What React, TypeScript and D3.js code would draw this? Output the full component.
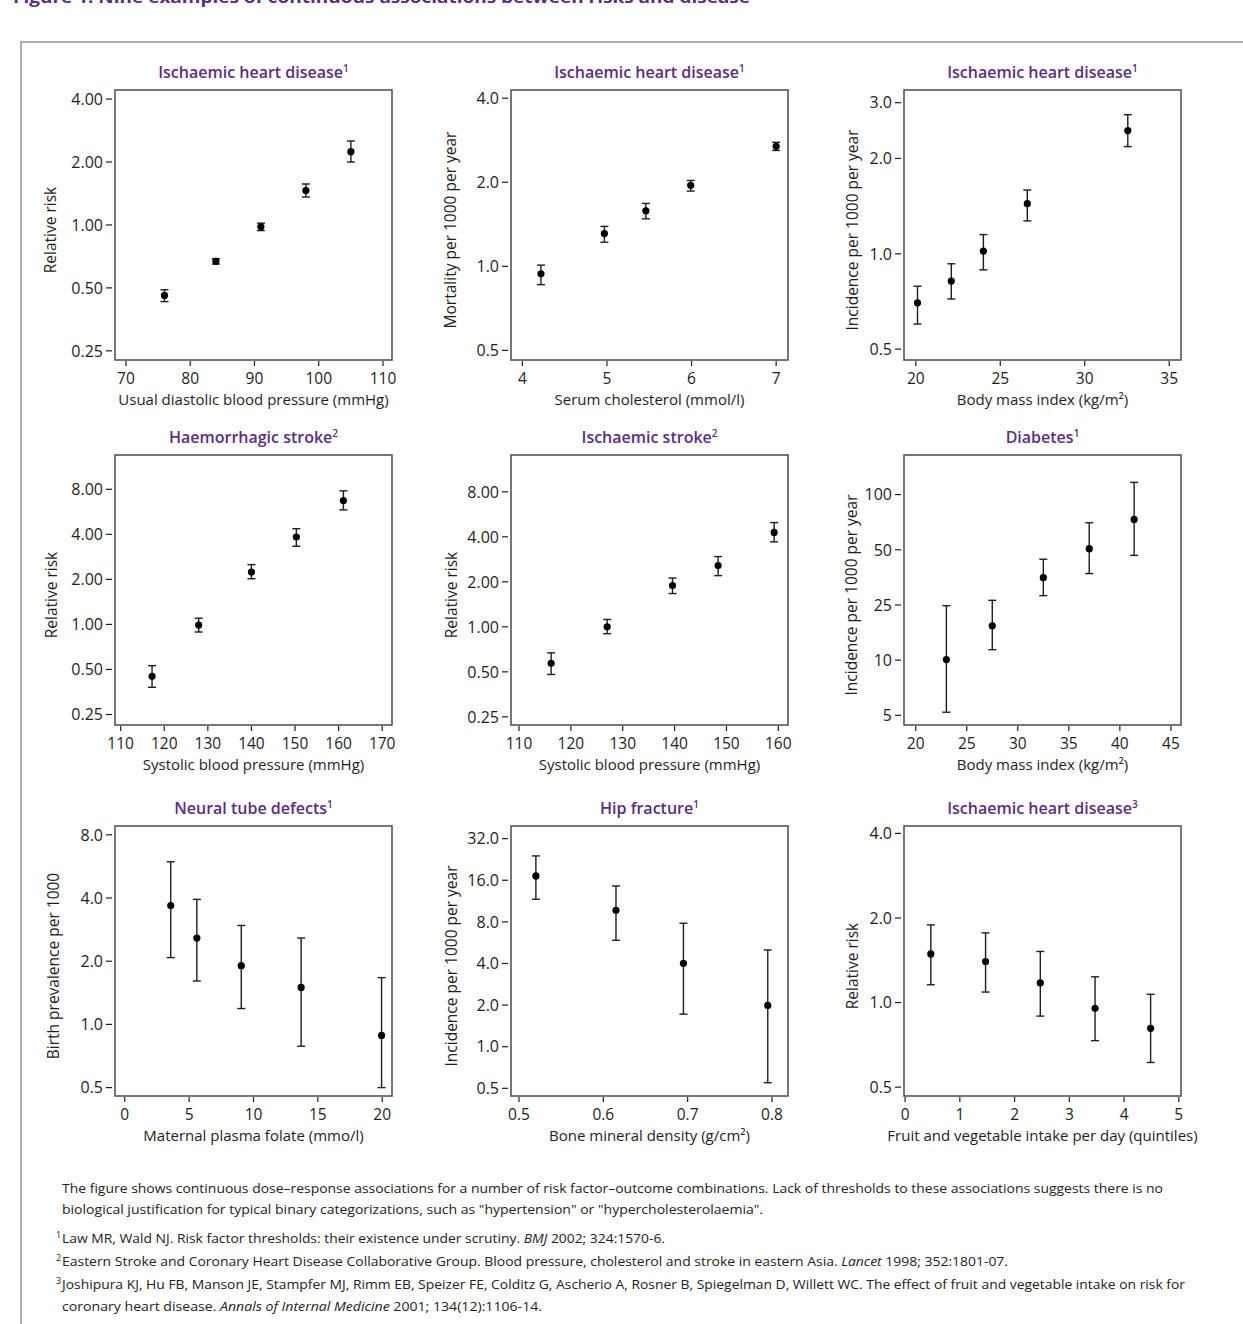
import * as d3 from 'd3'

// ---- data ----
const dbpX = [76, 84, 91, 98, 105]
const dbpRR = [0.46, 0.67, 0.98, 1.46, 2.24]
const dbpLo = [0.43, 0.65, 0.94, 1.36, 2.0]
const dbpHi = [0.49, 0.69, 1.02, 1.57, 2.52]

const cholX = [4.22, 4.97, 5.46, 5.99, 7.0]
const cholMort = [0.94, 1.31, 1.58, 1.95, 2.69]
const cholLo = [0.86, 1.22, 1.48, 1.86, 2.6]
const cholHi = [1.01, 1.39, 1.68, 2.03, 2.78]

const bmiIhdX = [20.1, 22.1, 24.0, 26.6, 32.55]
const bmiIhdInc = [0.7, 0.82, 1.02, 1.44, 2.45]
const bmiIhdLo = [0.6, 0.72, 0.89, 1.27, 2.18]
const bmiIhdHi = [0.79, 0.93, 1.15, 1.59, 2.75]

const sbpHaemX = [117.2, 127.9, 140.0, 150.3, 161.1]
const sbpHaemRR = [0.45, 0.99, 2.24, 3.84, 6.73]
const sbpHaemLo = [0.38, 0.89, 2.02, 3.33, 5.83]
const sbpHaemHi = [0.53, 1.1, 2.51, 4.36, 7.81]

const sbpIschX = [116.2, 127.0, 139.6, 148.4, 159.2]
const sbpIschRR = [0.57, 1.0, 1.89, 2.57, 4.28]
const sbpIschLo = [0.48, 0.9, 1.67, 2.2, 3.7]
const sbpIschHi = [0.67, 1.12, 2.12, 2.95, 4.98]

const bmiDiabX = [23, 27.5, 32.5, 37, 41.4]
const bmiDiabInc = [10.1, 17.7, 35.2, 50.7, 73.2]
const bmiDiabLo = [5.2, 11.9, 28.1, 37.1, 46.6]
const bmiDiabHi = [24.7, 26.5, 44.4, 70.2, 116.5]

const folateX = [3.57, 5.6, 9.05, 13.7, 19.95]
const folatePrev = [3.68, 2.58, 1.905, 1.5, 0.886]
const folateLo = [2.08, 1.61, 1.19, 0.787, 0.5]
const folateHi = [5.95, 3.94, 2.96, 2.58, 1.67]

const bmdX = [0.52, 0.615, 0.695, 0.795]
const bmdInc = [17.2, 9.7, 4.01, 1.99]
const bmdLo = [11.66, 5.89, 1.72, 0.549]
const bmdHi = [24.0, 14.55, 7.82, 5.01]

const fruitX = [0.47, 1.47, 2.47, 3.47, 4.485]
const fruitRR = [1.49, 1.4, 1.175, 0.954, 0.81]
const fruitLo = [1.157, 1.09, 0.895, 0.732, 0.612]
const fruitHi = [1.89, 1.77, 1.52, 1.235, 1.07]

// ---- tick labels ----
const rr4Ticks = [0.25, 0.5, 1, 2, 4]
const rr4Labels = ['0.25', '0.50', '1.00', '2.00', '4.00']
const rr8Ticks = [0.25, 0.5, 1, 2, 4, 8]
const rr8Labels = ['0.25', '0.50', '1.00', '2.00', '4.00', '8.00']
const half4Ticks = [0.5, 1, 2, 4]
const half4Labels = ['0.5', '1.0', '2.0', '4.0']
const half3Ticks = [0.5, 1, 2, 3]
const half3Labels = ['0.5', '1.0', '2.0', '3.0']
const diabTicks = [5, 10, 25, 50, 100]
const diabLabels = ['5', '10', '25', '50', '100']
const half8Ticks = [0.5, 1, 2, 4, 8]
const half8Labels = ['0.5', '1.0', '2.0', '4.0', '8.0']
const hipTicks = [0.5, 1, 2, 4, 8, 16, 32]
const hipLabels = ['0.5', '1.0', '2.0', '4.0', '8.0', '16.0', '32.0']

const FONT = "'Open Sans', 'Noto Sans', sans-serif"
const PURPLE = '#5b2c86'
const INK = '#1e1e1e'

const colLeft = [115, 511, 904]
const rowTop = [90, 455, 826]
const boxW = 277
const boxH = 270

interface PanelSpec {
  title: string
  sup: string
  xLabel: string
  yLabel: string
  col: number
  row: number
  yTitleOffset: number
  xDomain: [number, number]
  yDomain: [number, number]
  xTicks: number[]
  yTicks: number[]
  yLabels: string[]
  x: number[]
  est: number[]
  lo: number[]
  hi: number[]
  evenSteps?: [number, number] // ticks drawn equally spaced, with padding (in steps) below / above
}

const panels: PanelSpec[] = [
  { title: 'Ischaemic heart disease', sup: '1', xLabel: 'Usual diastolic blood pressure (mmHg)', yLabel: 'Relative risk',
    col: 0, row: 0, yTitleOffset: 64, xDomain: [68.3, 111.4], yDomain: [0.226, 4.42],
    xTicks: [70, 80, 90, 100, 110], yTicks: rr4Ticks, yLabels: rr4Labels, x: dbpX, est: dbpRR, lo: dbpLo, hi: dbpHi },
  { title: 'Ischaemic heart disease', sup: '1', xLabel: 'Serum cholesterol (mmol/l)', yLabel: 'Mortality per 1000 per year',
    col: 1, row: 0, yTitleOffset: 60, xDomain: [3.866, 7.14], yDomain: [0.462, 4.28],
    xTicks: [4, 5, 6, 7], yTicks: half4Ticks, yLabels: half4Labels, x: cholX, est: cholMort, lo: cholLo, hi: cholHi },
  { title: 'Ischaemic heart disease', sup: '1', xLabel: 'Body mass index (kg/m²)', yLabel: 'Incidence per 1000 per year',
    col: 2, row: 0, yTitleOffset: 51, xDomain: [19.3, 35.7], yDomain: [0.462, 3.29],
    xTicks: [20, 25, 30, 35], yTicks: half3Ticks, yLabels: half3Labels, x: bmiIhdX, est: bmiIhdInc, lo: bmiIhdLo, hi: bmiIhdHi },
  { title: 'Haemorrhagic stroke', sup: '2', xLabel: 'Systolic blood pressure (mmHg)', yLabel: 'Relative risk',
    col: 0, row: 1, yTitleOffset: 63, xDomain: [108.7, 172.25], yDomain: [0.2127, 13.56],
    xTicks: [110, 120, 130, 140, 150, 160, 170], yTicks: rr8Ticks, yLabels: rr8Labels, x: sbpHaemX, est: sbpHaemRR, lo: sbpHaemLo, hi: sbpHaemHi },
  { title: 'Ischaemic stroke', sup: '2', xLabel: 'Systolic blood pressure (mmHg)', yLabel: 'Relative risk',
    col: 1, row: 1, yTitleOffset: 59, xDomain: [108.46, 161.87], yDomain: [0.2205, 14.1],
    xTicks: [110, 120, 130, 140, 150, 160], yTicks: rr8Ticks, yLabels: rr8Labels, x: sbpIschX, est: sbpIschRR, lo: sbpIschLo, hi: sbpIschHi },
  { title: 'Diabetes', sup: '1', xLabel: 'Body mass index (kg/m²)', yLabel: 'Incidence per 1000 per year',
    col: 2, row: 1, yTitleOffset: 52, xDomain: [18.85, 45.99], yDomain: [4.43, 164],
    xTicks: [20, 25, 30, 35, 40, 45], yTicks: diabTicks, yLabels: diabLabels, x: bmiDiabX, est: bmiDiabInc, lo: bmiDiabLo, hi: bmiDiabHi,
    evenSteps: [0.175, 0.717] },
  { title: 'Neural tube defects', sup: '1', xLabel: 'Maternal plasma folate (mmo/l)', yLabel: 'Birth prevalence per 1000',
    col: 0, row: 2, yTitleOffset: 61, xDomain: [-0.76, 20.76], yDomain: [0.456, 8.81],
    xTicks: [0, 5, 10, 15, 20], yTicks: half8Ticks, yLabels: half8Labels, x: folateX, est: folatePrev, lo: folateLo, hi: folateHi },
  { title: 'Hip fracture', sup: '1', xLabel: 'Bone mineral density (g/cm²)', yLabel: 'Incidence per 1000 per year',
    col: 1, row: 2, yTitleOffset: 59, xDomain: [0.4905, 0.819], yDomain: [0.44, 39.5],
    xTicks: [0.5, 0.6, 0.7, 0.8], yTicks: hipTicks, yLabels: hipLabels, x: bmdX, est: bmdInc, lo: bmdLo, hi: bmdHi },
  { title: 'Ischaemic heart disease', sup: '3', xLabel: 'Fruit and vegetable intake per day (quintiles)', yLabel: 'Relative risk',
    col: 2, row: 2, yTitleOffset: 51, xDomain: [-0.02, 5.04], yDomain: [0.465, 4.25],
    xTicks: [0, 1, 2, 3, 4, 5], yTicks: half4Ticks, yLabels: half4Labels, x: fruitX, est: fruitRR, lo: fruitLo, hi: fruitHi },
]

function Panel({ p }: { p: PanelSpec }) {
  const x0 = colLeft[p.col]
  const y0 = rowTop[p.row]
  const bottom = y0 + boxH
  const x = d3.scaleLinear().domain(p.xDomain).range([x0, x0 + boxW])

  let y: (v: number) => number
  if (p.evenSteps) {
    // labelled ticks sit at equal spacing on this axis
    const [padLo, padHi] = p.evenSteps
    const n = p.yTicks.length
    const step = boxH / (n - 1 + padLo + padHi)
    const dom = [p.yDomain[0], ...p.yTicks, p.yDomain[1]]
    const rng = [bottom, ...p.yTicks.map((_, i) => bottom - (i + padLo) * step), y0]
    y = d3.scaleLog().domain(dom).range(rng)
  } else {
    y = d3.scaleLog().domain(p.yDomain).range([bottom, y0])
  }
  const cx = x0 + boxW / 2
  const fmtX = d3.format('')

  return (
    <g>
      <text x={cx} y={y0 - 12} textAnchor="middle" fontFamily={FONT} fontSize={16} fontWeight={600} fill={PURPLE}>
        {p.title}
        <tspan fontSize={10} dy={-6}>{p.sup}</tspan>
      </text>
      <rect x={x0} y={y0} width={boxW} height={boxH} fill="none" stroke="#4a4a4a" strokeWidth={1.5} />
      {p.yTicks.map((t, i) => (
        <g key={'y' + i}>
          <line x1={x0 - 9} x2={x0 - 3} y1={y(t)} y2={y(t)} stroke={INK} strokeWidth={1.2} />
          <text x={x0 - 12} y={y(t)} dy="0.36em" textAnchor="end" fontFamily={FONT} fontSize={16} fill={INK}>
            {p.yLabels[i]}
          </text>
        </g>
      ))}
      {p.xTicks.map((t, i) => (
        <g key={'x' + i}>
          <line x1={x(t)} x2={x(t)} y1={bottom + 1} y2={bottom + 6} stroke={INK} strokeWidth={1.2} />
          <text x={x(t)} y={bottom + 24} textAnchor="middle" fontFamily={FONT} fontSize={15.5} fill={INK}>
            {fmtX(t)}
          </text>
        </g>
      ))}
      <text x={cx} y={bottom + 45} textAnchor="middle" fontFamily={FONT} fontSize={15} fill={INK}>
        {p.xLabel}
      </text>
      <text
        transform={`translate(${x0 - p.yTitleOffset},${y0 + boxH / 2 + 5}) rotate(-90)`}
        dy="0.35em" textAnchor="middle" fontFamily={FONT} fontSize={15.5} fill={INK}
      >
        {p.yLabel}
      </text>
      {p.x.map((v, i) => (
        <g key={'p' + i}>
          <line x1={x(v)} x2={x(v)} y1={y(p.lo[i])} y2={y(p.hi[i])} stroke={INK} strokeWidth={1.4} />
          <line x1={x(v) - 4} x2={x(v) + 4} y1={y(p.lo[i])} y2={y(p.lo[i])} stroke={INK} strokeWidth={1.4} />
          <line x1={x(v) - 4} x2={x(v) + 4} y1={y(p.hi[i])} y2={y(p.hi[i])} stroke={INK} strokeWidth={1.4} />
          <circle cx={x(v)} cy={y(p.est[i])} r={3.6} fill="#000" />
        </g>
      ))}
    </g>
  )
}

const FOOT = "'Open Sans', 'Noto Sans', sans-serif"

export default function App() {
  return (
    <div style={{ position: 'absolute', left: 0, top: 0 }}>
      <svg width={1243} height={1324} style={{ display: 'block', background: '#fff' }}>
        <text x={13} y={3} fontFamily={FONT} fontSize={16} fontWeight={700} fill={PURPLE} textLength={737} lengthAdjust="spacingAndGlyphs">
          Figure 1: Nine examples of continuous associations between risks and disease
        </text>
        <rect x={21} y={42} width={1240} height={1300} fill="none" stroke="#9a9a9a" strokeWidth={1.6} />
        {panels.map((p, i) => <Panel key={i} p={p} />)}

        <g fontFamily={FOOT} fontSize={13.5} fill="#222">
          <text x={62} y={1193} textLength={1101} lengthAdjust="spacingAndGlyphs">
            The figure shows continuous dose–response associations for a number of risk factor–outcome combinations. Lack of thresholds to these associations suggests there is no
          </text>
          <text x={62} y={1214} textLength={701} lengthAdjust="spacingAndGlyphs">
            biological justification for typical binary categorizations, such as "hypertension" or "hypercholesterolaemia".
          </text>
          <text x={56} y={1238} fontSize={9}>1</text>
          <text x={62} y={1243} textLength={603} lengthAdjust="spacingAndGlyphs">
            Law MR, Wald NJ. Risk factor thresholds: their existence under scrutiny. <tspan fontStyle="italic">BMJ</tspan> 2002; 324:1570-6.
          </text>
          <text x={56} y={1261} fontSize={9}>2</text>
          <text x={62} y={1266} textLength={946} lengthAdjust="spacingAndGlyphs">
            Eastern Stroke and Coronary Heart Disease Collaborative Group. Blood pressure, cholesterol and stroke in eastern Asia. <tspan fontStyle="italic">Lancet</tspan> 1998; 352:1801-07.
          </text>
          <text x={56} y={1284} fontSize={9}>3</text>
          <text x={62} y={1289} textLength={1123} lengthAdjust="spacingAndGlyphs">
            Joshipura KJ, Hu FB, Manson JE, Stampfer MJ, Rimm EB, Speizer FE, Colditz G, Ascherio A, Rosner B, Spiegelman D, Willett WC. The effect of fruit and vegetable intake on risk for
          </text>
          <text x={62} y={1311} textLength={480} lengthAdjust="spacingAndGlyphs">
            coronary heart disease. <tspan fontStyle="italic">Annals of Internal Medicine</tspan> 2001; 134(12):1106-14.
          </text>
        </g>
      </svg>
    </div>
  )
}
